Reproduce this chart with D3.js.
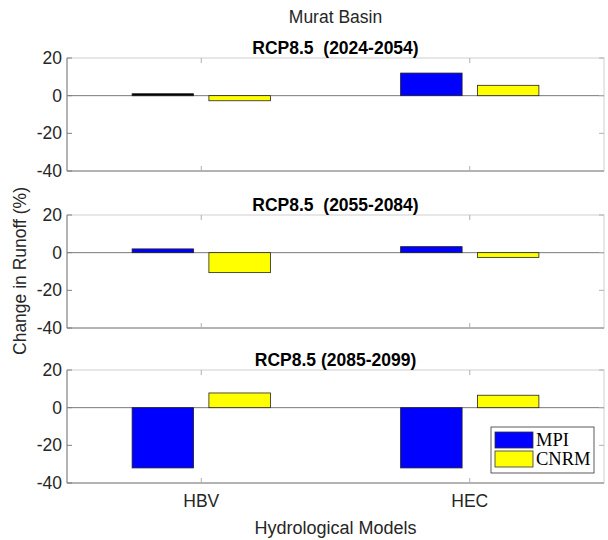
<!DOCTYPE html>
<html>
<head>
<meta charset="utf-8">
<script src="https://cdn.jsdelivr.net/npm/d3@7"></script>
<style>
  body { margin: 0; background: #fff; }
  text { font-family: "Liberation Sans", Arial, sans-serif; fill: #262626; }
</style>
</head>
<body>
<div id="graphicContainer"></div>
<script>
// values
var models = ["HBV", "HEC"];
var seriesNames = ["MPI", "CNRM"];
var periods = ["RCP8.5  (2024-2054)", "RCP8.5  (2055-2084)", "RCP8.5 (2085-2099)"];
var mpi = [[0.5, 12], [2, 3.2], [-32, -32]];
var cnrm = [[-2.7, 5.5], [-10.6, -2.5], [7.8, 6.6]];
var yTicks = [-40, -20, 0, 20];

var colors = d3.scaleOrdinal().domain(seriesNames).range(["#0000ff", "#ffff00"]);

var width = 608, height = 540;
var left = 67, right = 604;
var panelTops = [58, 215, 370];
var panelH = 113;

var svg = d3.select("#graphicContainer").append("svg")
  .attr("width", width)
  .attr("height", height);

var x = d3.scaleLinear().domain([0.5, 2.5]).range([left, right]);

svg.append("text")
  .attr("x", (left + right) / 2)
  .attr("y", 23)
  .attr("text-anchor", "middle")
  .style("font-size", "17.5px")
  .text("Murat Basin");

var offset = 0.143, barW = 0.229;

periods.forEach(function(title, p) {
  var top = panelTops[p];
  var y = d3.scaleLinear().domain([-40, 20]).range([top + panelH, top]);
  var g = svg.append("g");

  // box
  g.append("rect")
    .attr("x", left).attr("y", top)
    .attr("width", right - left).attr("height", panelH)
    .attr("fill", "none")
    .attr("stroke", "#d0d0d0")
    .attr("stroke-width", 1);

  var rows = models.map(function(m, i) {
    return [{ s: "MPI", v: mpi[p][i], c: i + 1 - offset }, { s: "CNRM", v: cnrm[p][i], c: i + 1 + offset }];
  });

  // baseline
  g.append("line")
    .attr("x1", left).attr("x2", right)
    .attr("y1", y(0)).attr("y2", y(0))
    .attr("stroke", "#7a7a7a").attr("stroke-width", 1);

  g.selectAll(".bar")
    .data(d3.merge(rows))
    .enter().append("rect")
    .attr("x", function(d) { return x(d.c - barW / 2); })
    .attr("width", function(d) { return x(barW) - x(0); })
    .attr("y", function(d) { return y(Math.max(0, d.v)) - (Math.abs(d.v) < 1 ? 1 : 0); })
    .attr("height", function(d) { return Math.max(Math.abs(y(d.v) - y(0)), 2); })
    .attr("fill", function(d) { return (p === 0 && d.s === "MPI" && Math.abs(d.v) < 1) ? "#000" : colors(d.s); })
    .attr("stroke", "#222")
    .attr("stroke-width", 0.8);

  // left and bottom axis lines
  g.append("line")
    .attr("x1", left).attr("x2", left)
    .attr("y1", top).attr("y2", top + panelH)
    .attr("stroke", "#808080");
  g.append("line")
    .attr("x1", left).attr("x2", right)
    .attr("y1", top + panelH).attr("y2", top + panelH)
    .attr("stroke", "#808080");

  // y ticks
  yTicks.forEach(function(t) {
    g.append("line")
      .attr("x1", left).attr("x2", left + 5)
      .attr("y1", y(t)).attr("y2", y(t))
      .attr("stroke", "#808080");
    g.append("line")
      .attr("x1", right).attr("x2", right - 5)
      .attr("y1", y(t)).attr("y2", y(t))
      .attr("stroke", "#b0b0b0");
    g.append("text")
      .attr("x", left - 5)
      .attr("y", y(t))
      .attr("text-anchor", "end")
      .attr("dominant-baseline", "central")
      .style("font-size", "17.5px")
      .text(t);
  });

  // x ticks
  models.forEach(function(m, i) {
    g.append("line")
      .attr("x1", x(i + 1)).attr("x2", x(i + 1))
      .attr("y1", top + panelH).attr("y2", top + panelH - 5)
      .attr("stroke", "#b0b0b0");
    g.append("line")
      .attr("x1", x(i + 1)).attr("x2", x(i + 1))
      .attr("y1", top).attr("y2", top + 5)
      .attr("stroke", "#b0b0b0");
  });

  g.append("text")
    .attr("x", (left + right) / 2)
    .attr("y", top - 4)
    .attr("text-anchor", "middle")
    .style("font-size", "17.5px")
    .style("font-weight", "bold")
    .style("fill", "#000")
    .style("white-space", "pre")
    .attr("xml:space", "preserve")
    .text(title);

  if (p === 2) {
    models.forEach(function(m, i) {
      g.append("text")
        .attr("x", x(i + 1))
        .attr("y", top + panelH + 24)
        .attr("text-anchor", "middle")
        .style("font-size", "17.5px")
        .text(m);
    });

    // legend
    var lg = g.append("g");
    lg.append("rect")
      .attr("x", 491).attr("y", 427)
      .attr("width", 103).attr("height", 46)
      .attr("fill", "#fff")
      .attr("stroke", "#333").attr("stroke-width", 0.8);
    seriesNames.forEach(function(s, k) {
      lg.append("rect")
        .attr("x", 495).attr("y", 432 + k * 19)
        .attr("width", 38).attr("height", 16)
        .attr("fill", colors(s))
        .attr("stroke", "#333").attr("stroke-width", 0.8);
      lg.append("text")
        .attr("x", 536).attr("y", 446 + k * 19)
        .style("font-family", "'Liberation Serif', 'Times New Roman', serif")
        .style("font-size", "18.5px")
        .style("fill", "#000")
        .text(s);
    });
  }
});

svg.append("text")
  .attr("x", (left + right) / 2)
  .attr("y", 534)
  .attr("text-anchor", "middle")
  .style("font-size", "18px")
  .text("Hydrological Models");

svg.append("text")
  .attr("transform", "translate(21," + 271 + ") rotate(-90)")
  .attr("text-anchor", "middle")
  .attr("dominant-baseline", "middle")
  .style("font-size", "17.5px")
  .text("Change in Runoff (%)");
</script>
</body>
</html>
